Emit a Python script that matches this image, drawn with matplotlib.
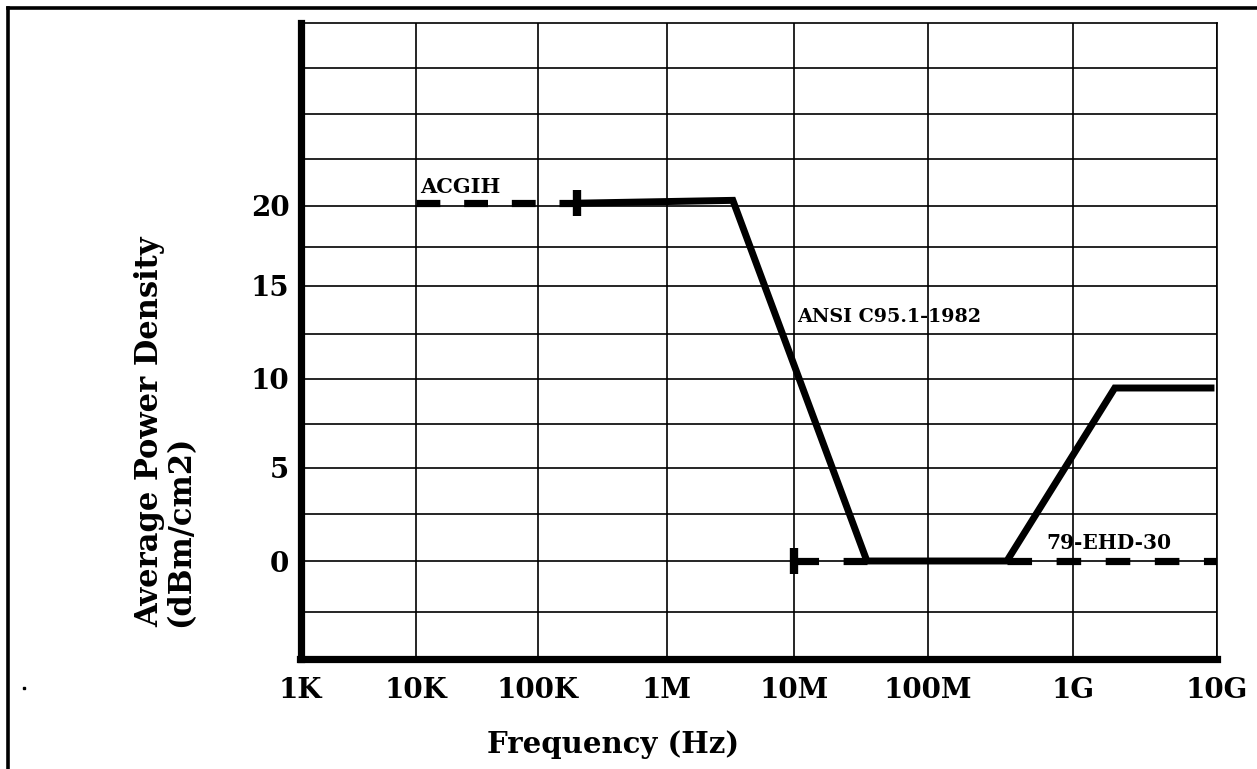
import numpy as np
import matplotlib
matplotlib.use("Agg")
import matplotlib.pyplot as plt
from matplotlib.lines import Line2D

# ---------------- data ----------------
freq_ticks = [1e3, 1e4, 1e5, 1e6, 1e7, 1e8, 1e9, 1e10]
freq_labels = ["1K", "10K", "100K", "1M", "10M", "100M", "1G", "10G"]
y_grid_vals = [-5, -2.5, 0, 2.5, 5, 7.5, 10, 12.5, 15, 17.5, 20, 22.5, 25, 27.5, 30]
y_label_vals = [0, 5, 10, 15, 20]

# ACGIH (dashed) limit
acgih_f = [1e4, 2e5]
acgih_db = [20.15, 20.15]

# ANSI C95.1-1982 (solid)
ansi_f = [2e5, 3.3e6, 3.5e7, 3.5e8, 1.95e9, 9.6e9]
ansi_db = [20.15, 20.3, 0.0, 0.0, 9.5, 9.5]

# 79-EHD-30 (dashed), drawn in two runs around the solid ANSI floor
ehd_f1 = [1e7, 3.5e7]
ehd_f2 = [3.5e8, 1e10]
ehd_db = [0.0, 0.0]

# end markers (crosses)
mark_f = [2e5, 1e7]
mark_db = [20.15, 0.0]

# ---------------- layout (hand-drawn, uneven grid of the original) ----------------
W, H = 1257, 769
DECADE_PX = [300.5, 416, 538, 667, 794, 928, 1073, 1217]   # pixel x of 1K..10G grid lines
YGRID_PX = [658.5, 612, 561, 514, 468, 424, 379, 334, 286, 247, 206, 159, 114, 68, 22.7]


def piecewise(knots, pix):
    knots = np.asarray(knots, float)
    pix = np.asarray(pix, float)

    def f(v):
        v = np.asarray(v, float)
        out = np.interp(v, knots, pix)
        s0 = (pix[1] - pix[0]) / (knots[1] - knots[0])
        s1 = (pix[-1] - pix[-2]) / (knots[-1] - knots[-2])
        out = np.where(v < knots[0], pix[0] + (v - knots[0]) * s0, out)
        out = np.where(v > knots[-1], pix[-1] + (v - knots[-1]) * s1, out)
        return out
    return f


dec = np.log10(freq_ticks)
_xf = piecewise(dec, DECADE_PX)
_xi = piecewise(DECADE_PX, dec)


def x_fwd(f):
    f = np.asarray(f, float)
    return _xf(np.log10(np.where(f > 0, f, 1e-300)))


def x_inv(u):
    return 10.0 ** _xi(u)


_ypx = -np.asarray(YGRID_PX)
_yf = piecewise(y_grid_vals, _ypx)
_yi = piecewise(_ypx, y_grid_vals)

fig = plt.figure(figsize=(W / 100, H / 100), dpi=100)
left = DECADE_PX[0] / W
right = DECADE_PX[-1] / W
bottom = (H - YGRID_PX[0]) / H
top = (H - YGRID_PX[-1]) / H
ax = fig.add_axes([left, bottom, right - left, top - bottom])

ax.set_xscale("function", functions=(x_fwd, x_inv))
ax.set_yscale("function", functions=(_yf, _yi))
ax.set_xlim(1e3, 1e10)
ax.set_ylim(-5, 30)

FONT = "DejaVu Serif"

# grid
ax.set_xticks(freq_ticks)
ax.set_xticklabels(freq_labels, fontfamily=FONT, fontweight="bold", fontsize=20)
ax.set_yticks(y_grid_vals[1:-1])
ax.set_yticklabels([("%d" % v if v in y_label_vals else "") for v in y_grid_vals[1:-1]],
                   fontfamily=FONT, fontweight="bold", fontsize=20)
ax.minorticks_off()
ax.tick_params(axis="x", length=0, pad=13)
ax.tick_params(axis="y", length=0, pad=8)
ax.grid(True, color="black", linewidth=1.2, zorder=1)
ax.set_axisbelow(True)

for s in ["left", "bottom"]:
    ax.spines[s].set_linewidth(5.2)
    ax.spines[s].set_capstyle("projecting")
for s in ["top", "right"]:
    ax.spines[s].set_linewidth(1.2)

# data lines
DASH = (0, (3.4, 3.4))
ax.plot(acgih_f, acgih_db, color="black", lw=5.2, linestyle=(0, (3.3, 3.3)),
        dash_capstyle="butt", zorder=3)
ax.plot(ehd_f1, ehd_db, color="black", lw=5.2, linestyle=DASH,
        dash_capstyle="butt", zorder=3)
ax.plot(ehd_f2, ehd_db, color="black", lw=5.2, linestyle=DASH,
        dash_capstyle="butt", zorder=3)
ax.plot(ansi_f, ansi_db, color="black", lw=5.0, solid_joinstyle="miter",
        solid_capstyle="butt", zorder=4)
ax.plot(mark_f, mark_db, linestyle="none", marker="|", markersize=18.5,
        markeredgewidth=6, color="black", zorder=5)

# annotations
ax.text(1.08e4, 20.7, "ACGIH", fontfamily=FONT, fontweight="bold", fontsize=15,
        ha="left", va="baseline", zorder=6)
ax.text(1.05e7, 13.1, "ANSI C95.1-1982", fontfamily=FONT, fontweight="bold", fontsize=13.8,
        ha="left", va="baseline", zorder=6)
ax.text(6.6e8, 0.64, "79-EHD-30", fontfamily=FONT, fontweight="bold", fontsize=14.5,
        ha="left", va="baseline", zorder=6)

# axis titles
fig.text(613 / W, (H - 753) / H, "Frequency (Hz)", fontfamily=FONT, fontweight="bold",
         fontsize=21, ha="center", va="baseline")
fig.text(165 / W, (H - 627) / H, "Average Power Density\n(dBm/cm2)", fontfamily=FONT,
         fontweight="bold", fontsize=22, rotation=90, ha="center", va="bottom",
         multialignment="left", linespacing=1.0)

# page frame (top and left border) and stray dot
fig.add_artist(Line2D([7.5 / W, 1.0], [(H - 7.5) / H, (H - 7.5) / H],
                      transform=fig.transFigure, color="black", lw=2.6,
                      solid_capstyle="projecting"))
fig.add_artist(Line2D([7.5 / W, 7.5 / W], [0.0, (H - 7.5) / H],
                      transform=fig.transFigure, color="black", lw=2.6,
                      solid_capstyle="projecting"))
fig.add_artist(Line2D([24 / W], [(H - 688) / H], transform=fig.transFigure,
                      marker="s", markersize=1.6, color="black", linestyle="none"))

fig.savefig("out.png", dpi=100, facecolor="white")
